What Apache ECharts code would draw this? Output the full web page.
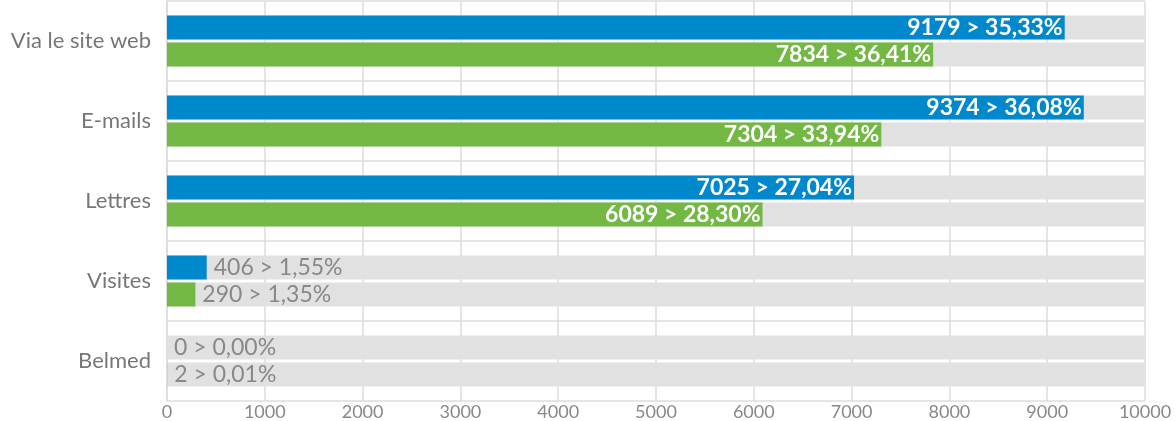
<!DOCTYPE html>
<html>
<head>
<meta charset="utf-8">
<script src="https://cdn.jsdelivr.net/npm/echarts@6/dist/echarts.min.js"></script>
<style>
  html, body { margin: 0; padding: 0; background: #fff; }
  #chart { width: 1176px; height: 421px; }
</style>
</head>
<body>
<div id="chart"></div>
<script>
// Canaux de contact : nombre et part de chaque canal, deux périodes
const categories = ['Via le site web', 'E-mails', 'Lettres', 'Visites', 'Belmed'];
const valuesBlue = [9179, 9374, 7025, 406, 0];
const percentBlue = ['35,33', '36,08', '27,04', '1,55', '0,00'];
const valuesGreen = [7834, 7304, 6089, 290, 2];
const percentGreen = ['36,41', '33,94', '28,30', '1,35', '0,01'];
const axisMax = 10000;
const axisStep = 1000;

const FONT = 'Lato, "Open Sans", sans-serif';

// Large bars carry their label inside in white; short bars get it to the right in grey
function buildData(values, percents) {
  return values.map((v, i) => {
    const inside = v > 3000;
    return {
      value: v,
      label: inside
        ? { position: 'insideRight', color: '#ffffff', fontWeight: 'bold', fontSize: 23, distance: 2 }
        : { position: 'right', color: '#888888', fontWeight: 'normal', fontSize: 23, distance: 7 },
      pct: percents[i]
    };
  });
}

function labelFormatter(p) {
  return p.value + ' > ' + p.data.pct + '%';
}

const seriesCommon = {
  type: 'bar',
  barWidth: 24,
  barGap: '12%',
  showBackground: true,
  backgroundStyle: { color: '#e1e1e1' },
  label: { show: true, fontFamily: FONT, formatter: labelFormatter },
  emphasis: { disabled: true },
  animation: false
};

const chart = echarts.init(document.getElementById('chart'));
chart.setOption({
  grid: { left: 167, right: 31, top: 1, bottom: 20 },
  xAxis: {
    type: 'value',
    min: 0,
    max: axisMax,
    interval: axisStep,
    axisLine: { show: false },
    axisTick: { show: false },
    axisLabel: {
      color: '#8a8886', fontSize: 18, fontFamily: FONT, margin: 2,
      formatter: v => String(v)
    },
    splitLine: { show: true, lineStyle: { color: '#dcdcdc', width: 1.5 } }
  },
  yAxis: {
    type: 'category',
    data: categories,
    inverse: true,
    axisLine: { show: true, lineStyle: { color: '#dcdcdc', width: 1.5 } },
    axisTick: { show: false },
    axisLabel: { color: '#777777', fontSize: 22, fontFamily: FONT, margin: 16 },
    splitLine: { show: true, lineStyle: { color: '#dcdcdc', width: 1.5 } }
  },
  series: [
    Object.assign({}, seriesCommon, {
      name: 'bleu',
      itemStyle: { color: '#0088cc' },
      data: buildData(valuesBlue, percentBlue)
    }),
    Object.assign({}, seriesCommon, {
      name: 'vert',
      itemStyle: { color: '#72b843' },
      data: buildData(valuesGreen, percentGreen)
    })
  ]
});
</script>
</body>
</html>
